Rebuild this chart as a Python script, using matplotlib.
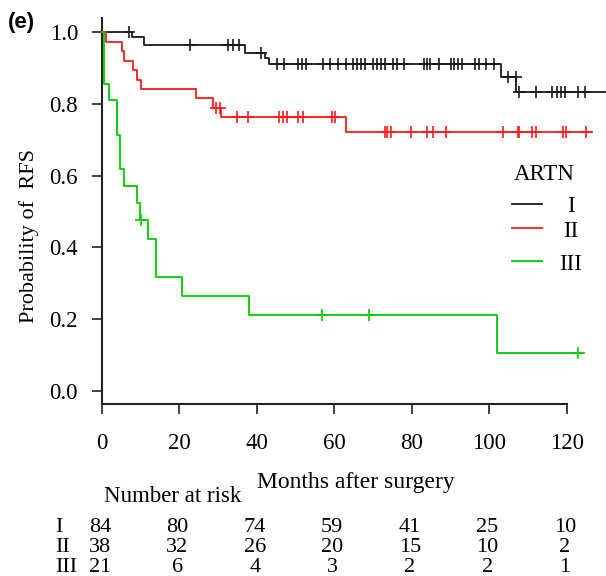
import numpy as np
import matplotlib
matplotlib.use("Agg")
import matplotlib.pyplot as plt
import matplotlib.transforms as mtransforms

plt.rcParams['font.family'] = ['Liberation Serif', 'DejaVu Serif']

# Kaplan-Meier step data (time in months, survival probability)
groups = ["I", "II", "III"]
colors = ["#1a1a1a", "#ff1a1a", "#00cc00"]

times_I = [0, 7.8, 10.8, 37.1, 42.2, 43.2, 103.0, 107.0, 130.0]
surv_I = [1.0, 0.988, 0.964, 0.941, 0.927, 0.913, 0.874, 0.834, 0.834]
cens_I = [7.0, 22.9, 32.5, 33.8, 35.4, 41.0, 45.2, 47.0, 50.7, 51.6, 52.7,
          57.0, 58.9, 61.1, 63.0, 64.9, 66.0, 66.9, 67.9, 70.1, 71.1, 72.1,
          73.1, 75.1, 76.1, 78.0, 83.2, 83.9, 84.7, 87.0, 90.1, 90.9, 92.0,
          92.9, 96.3, 97.4, 99.2, 101.1, 104.9, 106.9, 107.8, 112.1, 116.1,
          117.6, 118.5, 119.6, 123.0, 124.7]

times_II = [0, 1.0, 5.2, 5.8, 8.2, 9.0, 10.1, 24.3, 28.8, 30.8, 63.0, 126.4]
surv_II = [1.0, 0.974, 0.947, 0.921, 0.895, 0.868, 0.842, 0.816, 0.789,
           0.764, 0.723, 0.723]
cens_II = [29.5, 30.6, 34.8, 37.8, 45.8, 46.9, 47.9, 50.7, 51.9, 59.4, 60.2,
           73.1, 73.7, 74.6, 79.8, 83.9, 85.6, 88.8, 103.6, 107.3, 107.8,
           111.1, 112.0, 119.0, 119.8, 125.0]

times_III = [0, 0.6, 1.9, 3.9, 4.7, 5.8, 9.0, 10.0, 11.9, 14.1, 20.8, 38.0,
             102.1, 124.5]
surv_III = [1.0, 0.857, 0.810, 0.714, 0.619, 0.571, 0.524, 0.476, 0.423,
            0.317, 0.264, 0.211, 0.106, 0.106]
cens_III = [10.2, 56.9, 69.1, 123.0]

risk_times = [0, 20, 40, 60, 80, 100, 120]
risk_I = [84, 80, 74, 59, 41, 25, 10]
risk_II = [38, 32, 26, 20, 15, 10, 2]
risk_III = [21, 6, 4, 3, 2, 2, 1]

W, H = 606, 576
fig = plt.figure(figsize=(W / 100, H / 100), dpi=100)
ax = fig.add_axes([101.7 / W, 1 - 404.3 / H, 503.8 / W, 386.3 / H])

curves = [(times_I, surv_I, cens_I), (times_II, surv_II, cens_II),
          (times_III, surv_III, cens_III)]
for (t, s, c), col in zip(curves, colors):
    t = np.array(t)
    s = np.array(s)
    ax.step(t, s, where='post', color=col, lw=1.3, clip_on=False, zorder=3)
    idx = np.searchsorted(t, c, side='right') - 1
    ax.plot(c, s[idx], '+', color=col, ms=9, mew=1.2, zorder=4, clip_on=False)

ax.set_xlim(0, 130)
ax.set_ylim(-0.038, 1.04)
ax.set_xticks(risk_times)
ax.set_yticks([0.0, 0.2, 0.4, 0.6, 0.8, 1.0])
ax.set_yticklabels(["0.0", "0.2", "0.4", "0.6", "0.8", "1.0"])
for side in ["top", "right"]:
    ax.spines[side].set_visible(False)
ax.spines["bottom"].set_bounds(0, 120)
for side in ["left", "bottom"]:
    ax.spines[side].set_linewidth(1.5)
    ax.spines[side].set_color("#222222")
ax.tick_params(axis='x', direction='out', length=7, width=1.2, pad=14,
               labelsize=16.5, color="#222222")
ax.tick_params(axis='y', direction='out', length=7, width=1.2, pad=10,
               labelsize=16.5, color="#222222")

# labels
fig.text(29 / W, 1 - 236 / H, "Probability of  RFS", rotation=90,
         ha='center', va='center', fontsize=16)
fig.text(356 / W, 1 - 488 / H, "Months after surgery", ha='center',
         va='baseline', fontsize=17)
fig.text(172.5 / W, 1 - 502 / H, "Number at risk", ha='center',
         va='baseline', fontsize=16.5)
fig.text(8 / W, 1 - 22.5 / H, "(e)", ha='left', va='center', fontsize=16,
         fontweight='bold', family='Liberation Sans')

# legend drawn by hand
fig.text(544 / W, 1 - 180 / H, "ARTN", ha='center', va='baseline',
         fontsize=16.5)
leg_y = [204, 228, 261]
lab_y = [212, 237, 270]
for g, col, ly, ty in zip(groups, colors, leg_y, lab_y):
    fig.add_artist(plt.Line2D([512 / W, 542 / W], [1 - ly / H, 1 - ly / H],
                              color=col, lw=1.3))
    fig.text(571 / W, 1 - ty / H, g, ha='center', va='baseline', fontsize=16.5)

# number at risk table
trans = mtransforms.blended_transform_factory(ax.transData, fig.transFigure)
rows = [risk_I, risk_II, risk_III]
row_y = [532, 552, 571.5]
for g, vals, ry in zip(groups, rows, row_y):
    fig.text(55 / W, 1 - ry / H, g, ha='left', va='baseline', fontsize=16)
    for t, v in zip(risk_times, vals):
        ax.text(t - 0.5, 1 - ry / H, str(v), transform=trans, ha='center',
                va='baseline', fontsize=16, clip_on=False)

fig.savefig("out.png", dpi=100)
